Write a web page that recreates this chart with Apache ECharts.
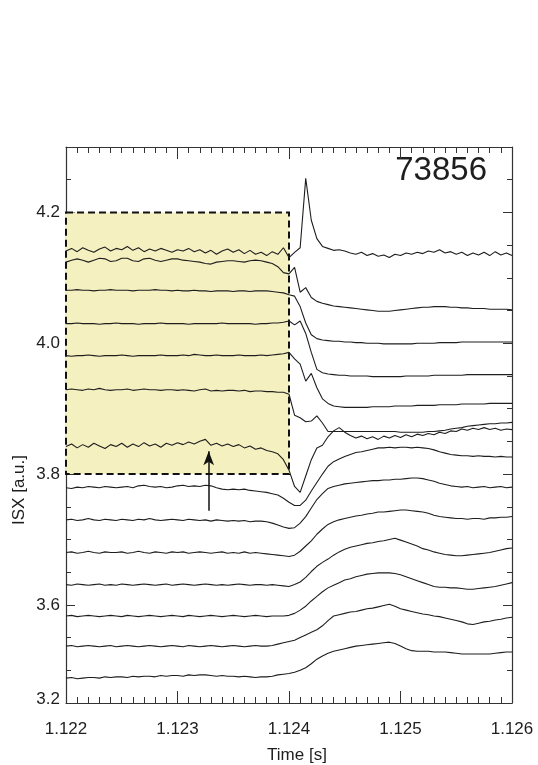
<!DOCTYPE html>
<html><head><meta charset="utf-8">
<script src="https://cdn.jsdelivr.net/npm/echarts@6/dist/echarts.min.js"></script>
<style>html,body{margin:0;padding:0;background:#fff}#c{width:538px;height:765px}</style>
</head><body><div id="c"></div>
<script>
// ---- data ----
const time = [
1.12200,1.12205,1.12210,1.12215,1.12220,1.12225,1.12230,1.12235,1.12240,1.12245,
1.12250,1.12255,1.12260,1.12265,1.12270,1.12275,1.12280,1.12285,1.12290,1.12295,
1.12300,1.12305,1.12310,1.12315,1.12320,1.12325,1.12330,1.12335,1.12340,1.12345,
1.12350,1.12355,1.12360,1.12365,1.12370,1.12375,1.12380,1.12385,1.12390,1.12395,
1.12400,1.12405,1.12410,1.12415,1.12420,1.12425,1.12430,1.12435,1.12440,1.12445,
1.12450,1.12455,1.12460,1.12465,1.12470,1.12475,1.12480,1.12485,1.12490,1.12495,
1.12500,1.12505,1.12510,1.12515,1.12520,1.12525,1.12530,1.12535,1.12540,1.12545,
1.12550,1.12555,1.12560,1.12565,1.12570,1.12575,1.12580,1.12585,1.12590,1.12595,
1.12600];
const trace01 = [
4.141,4.145,4.140,4.146,4.142,4.139,4.144,4.147,4.141,4.145,
4.143,4.148,4.142,4.146,4.140,4.144,4.141,4.145,4.142,4.139,
4.143,4.141,4.145,4.140,4.143,4.138,4.142,4.136,4.141,4.144,
4.139,4.143,4.137,4.142,4.136,4.139,4.134,4.140,4.136,4.146,
4.131,4.139,4.146,4.252,4.188,4.160,4.148,4.145,4.142,4.143,
4.141,4.138,4.136,4.139,4.134,4.137,4.133,4.135,4.131,4.136,
4.134,4.138,4.136,4.139,4.137,4.141,4.139,4.143,4.138,4.140,
4.136,4.139,4.134,4.138,4.135,4.139,4.134,4.140,4.135,4.138,4.134];
const trace02 = [
4.124,4.127,4.129,4.127,4.124,4.127,4.130,4.129,4.125,4.126,
4.130,4.130,4.126,4.125,4.129,4.130,4.127,4.125,4.127,4.129,
4.129,4.127,4.126,4.125,4.124,4.122,4.121,4.124,4.125,4.126,
4.126,4.125,4.124,4.126,4.127,4.126,4.124,4.122,4.117,4.108,
4.106,4.116,4.078,4.085,4.070,4.064,4.061,4.059,4.057,4.056,
4.055,4.054,4.053,4.052,4.051,4.050,4.049,4.049,4.049,4.050,
4.051,4.052,4.053,4.054,4.055,4.055,4.056,4.056,4.056,4.055,
4.055,4.054,4.054,4.053,4.053,4.053,4.052,4.052,4.052,4.052,4.051];
const trace03 = [
4.081,4.081,4.082,4.081,4.081,4.080,4.081,4.081,4.082,4.081,
4.081,4.081,4.080,4.081,4.081,4.081,4.082,4.081,4.081,4.080,
4.081,4.080,4.080,4.081,4.080,4.080,4.079,4.080,4.080,4.080,
4.079,4.080,4.080,4.079,4.080,4.080,4.080,4.079,4.078,4.077,
4.074,4.072,4.056,4.031,4.013,4.007,4.005,4.004,4.003,4.003,
4.002,4.002,4.001,4.001,4.000,4.000,4.000,3.999,3.999,3.999,
3.999,3.999,3.999,4.000,4.000,4.000,4.000,4.001,4.001,4.001,
4.001,4.002,4.002,4.002,4.002,4.002,4.002,4.002,4.002,4.002,4.002];
const trace04 = [
4.030,4.030,4.031,4.030,4.030,4.030,4.029,4.030,4.030,4.031,
4.030,4.030,4.030,4.029,4.030,4.030,4.030,4.031,4.030,4.030,
4.030,4.030,4.029,4.030,4.030,4.030,4.030,4.030,4.031,4.030,
4.030,4.030,4.030,4.030,4.029,4.030,4.030,4.031,4.031,4.032,
4.034,4.028,4.034,4.015,3.986,3.960,3.955,3.953,3.952,3.951,
3.951,3.950,3.950,3.950,3.950,3.949,3.949,3.949,3.949,3.949,
3.949,3.950,3.950,3.950,3.950,3.950,3.951,3.951,3.951,3.951,
3.951,3.951,3.952,3.952,3.952,3.952,3.952,3.952,3.952,3.952,3.952];
const trace05 = [
3.981,3.980,3.981,3.981,3.982,3.981,3.980,3.981,3.981,3.981,
3.982,3.981,3.980,3.981,3.981,3.981,3.981,3.982,3.981,3.981,
3.981,3.982,3.981,3.983,3.982,3.981,3.981,3.982,3.981,3.981,
3.981,3.982,3.981,3.981,3.981,3.982,3.981,3.982,3.983,3.984,
3.986,3.976,3.968,3.942,3.954,3.932,3.915,3.908,3.904,3.903,
3.902,3.902,3.902,3.902,3.902,3.903,3.903,3.903,3.903,3.904,
3.904,3.904,3.904,3.905,3.905,3.905,3.905,3.906,3.906,3.906,
3.906,3.907,3.907,3.907,3.907,3.907,3.908,3.908,3.908,3.908,3.908];
const trace06 = [
3.929,3.930,3.929,3.928,3.930,3.929,3.931,3.929,3.928,3.929,
3.929,3.930,3.928,3.929,3.930,3.929,3.929,3.928,3.929,3.929,
3.928,3.929,3.928,3.927,3.929,3.930,3.927,3.928,3.927,3.928,
3.928,3.927,3.928,3.926,3.927,3.927,3.926,3.926,3.925,3.925,
3.922,3.890,3.886,3.880,3.881,3.889,3.878,3.865,3.865,3.865,
3.865,3.865,3.865,3.865,3.865,3.865,3.865,3.865,3.865,3.865,
3.864,3.864,3.864,3.864,3.864,3.865,3.865,3.866,3.867,3.869,
3.870,3.871,3.873,3.874,3.875,3.876,3.877,3.877,3.878,3.878,3.879];
const trace07 = [
3.842,3.846,3.840,3.845,3.841,3.847,3.843,3.839,3.845,3.842,
3.847,3.841,3.846,3.842,3.848,3.843,3.846,3.841,3.847,3.844,
3.848,3.845,3.849,3.846,3.850,3.853,3.844,3.847,3.843,3.846,
3.842,3.845,3.840,3.843,3.838,3.840,3.836,3.834,3.831,3.822,
3.806,3.781,3.772,3.797,3.822,3.840,3.844,3.857,3.866,3.871,
3.864,3.859,3.855,3.858,3.854,3.857,3.853,3.858,3.855,3.859,
3.856,3.860,3.857,3.861,3.859,3.862,3.860,3.864,3.862,3.866,
3.865,3.869,3.867,3.870,3.868,3.871,3.868,3.870,3.867,3.869,3.868];
const trace08 = [
3.779,3.778,3.780,3.779,3.781,3.780,3.779,3.781,3.780,3.779,
3.780,3.781,3.779,3.782,3.783,3.781,3.780,3.781,3.779,3.780,
3.782,3.783,3.781,3.782,3.781,3.783,3.782,3.779,3.777,3.776,
3.777,3.776,3.777,3.775,3.774,3.773,3.772,3.770,3.768,3.763,
3.757,3.752,3.752,3.760,3.774,3.787,3.800,3.812,3.819,3.823,
3.827,3.830,3.833,3.834,3.836,3.838,3.840,3.840,3.841,3.840,
3.841,3.841,3.840,3.841,3.840,3.839,3.837,3.834,3.832,3.830,
3.829,3.828,3.828,3.827,3.828,3.827,3.827,3.826,3.827,3.826,3.826];
const trace09 = [
3.730,3.731,3.729,3.730,3.732,3.730,3.729,3.731,3.730,3.729,
3.731,3.730,3.729,3.731,3.730,3.732,3.730,3.729,3.730,3.731,
3.730,3.729,3.731,3.730,3.729,3.730,3.728,3.730,3.729,3.728,
3.729,3.728,3.729,3.727,3.728,3.728,3.727,3.725,3.722,3.719,
3.717,3.718,3.725,3.735,3.748,3.761,3.770,3.778,3.781,3.783,
3.785,3.786,3.787,3.788,3.789,3.790,3.790,3.791,3.791,3.792,
3.792,3.793,3.794,3.794,3.793,3.791,3.789,3.786,3.784,3.782,
3.781,3.780,3.781,3.779,3.780,3.781,3.779,3.780,3.781,3.779,3.780];
const trace10 = [
3.680,3.681,3.679,3.680,3.682,3.680,3.679,3.681,3.680,3.680,
3.681,3.679,3.680,3.682,3.680,3.679,3.681,3.680,3.679,3.681,
3.680,3.681,3.679,3.680,3.681,3.680,3.679,3.680,3.681,3.679,
3.680,3.679,3.681,3.679,3.680,3.679,3.678,3.677,3.676,3.675,
3.674,3.676,3.682,3.690,3.698,3.708,3.716,3.723,3.727,3.730,
3.732,3.734,3.736,3.737,3.739,3.740,3.742,3.742,3.743,3.744,
3.745,3.745,3.744,3.743,3.742,3.740,3.737,3.735,3.734,3.733,
3.732,3.732,3.731,3.732,3.732,3.731,3.733,3.733,3.734,3.734,3.735];
const trace11 = [
3.631,3.630,3.632,3.631,3.630,3.631,3.632,3.630,3.631,3.630,
3.632,3.631,3.630,3.631,3.632,3.631,3.630,3.631,3.632,3.630,
3.631,3.632,3.631,3.630,3.631,3.632,3.631,3.630,3.631,3.630,
3.631,3.632,3.631,3.630,3.631,3.631,3.630,3.631,3.630,3.629,
3.628,3.631,3.635,3.642,3.651,3.659,3.665,3.670,3.676,3.681,
3.685,3.688,3.690,3.692,3.694,3.695,3.697,3.698,3.700,3.702,
3.699,3.696,3.693,3.690,3.686,3.684,3.681,3.679,3.677,3.676,
3.675,3.675,3.676,3.677,3.678,3.679,3.680,3.682,3.684,3.686,3.687];
const trace12 = [
3.583,3.584,3.582,3.583,3.584,3.583,3.582,3.583,3.584,3.583,
3.582,3.584,3.583,3.582,3.583,3.584,3.583,3.582,3.583,3.584,
3.583,3.582,3.584,3.583,3.582,3.583,3.584,3.583,3.582,3.583,
3.584,3.583,3.582,3.583,3.584,3.583,3.582,3.583,3.583,3.583,
3.584,3.587,3.592,3.598,3.606,3.613,3.620,3.626,3.630,3.634,
3.638,3.640,3.643,3.645,3.647,3.648,3.649,3.649,3.649,3.648,
3.646,3.643,3.640,3.637,3.634,3.631,3.628,3.627,3.627,3.626,
3.626,3.625,3.624,3.624,3.625,3.626,3.627,3.628,3.630,3.632,3.634];
const trace13 = [
3.537,3.538,3.536,3.537,3.538,3.537,3.536,3.537,3.538,3.536,
3.537,3.538,3.537,3.536,3.537,3.538,3.537,3.536,3.537,3.538,
3.537,3.536,3.538,3.537,3.536,3.537,3.538,3.537,3.536,3.537,
3.538,3.537,3.536,3.537,3.538,3.537,3.537,3.538,3.540,3.542,
3.544,3.546,3.550,3.554,3.558,3.562,3.568,3.576,3.583,3.585,
3.587,3.589,3.590,3.592,3.594,3.595,3.597,3.599,3.601,3.598,
3.594,3.592,3.590,3.588,3.586,3.585,3.583,3.582,3.580,3.578,
3.576,3.574,3.571,3.570,3.572,3.574,3.575,3.577,3.578,3.580,3.581];
const trace14 = [
3.488,3.489,3.487,3.488,3.489,3.489,3.488,3.490,3.489,3.490,
3.490,3.489,3.491,3.490,3.491,3.491,3.490,3.492,3.491,3.492,
3.492,3.491,3.493,3.492,3.493,3.493,3.492,3.491,3.492,3.491,
3.491,3.490,3.491,3.490,3.489,3.490,3.490,3.491,3.493,3.494,
3.495,3.497,3.500,3.504,3.510,3.517,3.522,3.526,3.529,3.531,
3.533,3.535,3.537,3.538,3.539,3.540,3.541,3.542,3.543,3.541,
3.537,3.533,3.530,3.529,3.529,3.529,3.528,3.528,3.528,3.527,
3.526,3.525,3.525,3.525,3.525,3.525,3.525,3.526,3.527,3.528,3.528];

const shotLabel = '73856';
const xTickValues = [1.122, 1.123, 1.124, 1.125, 1.126];
const yLabelValues = [3.455, 3.6, 3.8, 4.0, 4.2];
const yLabelTexts = ['3.2', '3.6', '3.8', '4.0', '4.2'];
const yMajorTicks = [3.6, 3.8, 4.0, 4.2];
const boxTime = [1.122, 1.124];
const boxISX = [3.8, 4.2];
const arrowTime = 1.12328;
const arrowISX = [3.744, 3.835];

// ---- chart ----
const traces = [trace01,trace02,trace03,trace04,trace05,trace06,trace07,
                trace08,trace09,trace10,trace11,trace12,trace13,trace14];
const FONT = '"Liberation Sans", Arial, Helvetica, sans-serif';
const INK = '#1e1e1e';
const AX = '#333';
const X_MIN = 1.122, X_MAX = 1.126, Y_MIN = 3.45, Y_MAX = 4.3;

const chart = echarts.init(document.getElementById('c'), null, {renderer: 'canvas'});

function xAx(pos, show) {
  return {
    type: 'value', position: pos, min: X_MIN, max: X_MAX, interval: 0.001,
    axisLine: {show: true, onZero: false, lineStyle: {color: AX, width: 1.2}},
    axisTick: {show: true, inside: true, length: 12, lineStyle: {color: AX, width: 1}},
    minorTick: {show: true, splitNumber: 10, length: 6, lineStyle: {color: AX, width: 1}},
    splitLine: {show: false}, minorSplitLine: {show: false},
    axisLabel: {show: show, margin: 18, color: INK, fontSize: 17, fontFamily: FONT,
      formatter: v => { const k = xTickValues.findIndex(t => Math.abs(t - v) < 1e-7); return k >= 0 ? xTickValues[k].toFixed(3) : ''; }}
  };
}
function yMinor(pos) {
  return {
    type: 'value', position: pos, min: Y_MIN, max: Y_MAX, interval: 0.05,
    axisLine: {show: true, onZero: false, lineStyle: {color: AX, width: 1.2}},
    axisTick: {show: true, inside: true, length: 5, lineStyle: {color: AX, width: 1}},
    axisLabel: {show: false}, splitLine: {show: false}
  };
}
function yMajor(pos, show) {
  return {
    type: 'value', position: pos, min: Y_MIN, max: Y_MAX,
    axisLine: {show: false, onZero: false},
    axisTick: {show: true, inside: true, length: 9, customValues: yMajorTicks, lineStyle: {color: AX, width: 1}},
    axisLabel: {show: show, customValues: yLabelValues, margin: 6, color: INK, fontSize: 17, fontFamily: FONT,
      showMinLabel: true, showMaxLabel: true,
      formatter: v => { const k = yLabelValues.findIndex(t => Math.abs(t - v) < 1e-6); return k >= 0 ? yLabelTexts[k] : ''; }},
    splitLine: {show: false}
  };
}

const series = [{
  type: 'line', xAxisIndex: 0, yAxisIndex: 0, data: [], z: 1, silent: true,
  markArea: {
    silent: true,
    itemStyle: {color: '#f4f0c0', borderColor: '#111', borderWidth: 2, borderType: [7, 4]},
    data: [[{coord: [boxTime[0], boxISX[1]]}, {coord: [boxTime[1], boxISX[0]]}]]
  },
  markLine: {
    silent: true, animation: false,
    lineStyle: {color: '#111', width: 1.5, type: 'solid'},
    label: {show: false},
    symbol: ['none', 'arrow'], symbolSize: [0, 10],
    data: [[{coord: [arrowTime, arrowISX[0]], symbol: 'none'},
            {coord: [arrowTime, arrowISX[1]], symbol: 'arrow', symbolSize: [8, 14]}]]
  }
}];
traces.forEach((tr, i) => {
  series.push({
    name: 'trace' + (i + 1), type: 'line', xAxisIndex: 0, yAxisIndex: 0, z: 3,
    showSymbol: false, symbol: 'none', smooth: false, silent: true,
    lineStyle: {color: INK, width: 1.1},
    data: time.map((t, j) => [t, tr[j]])
  });
});

chart.setOption({
  animation: false,
  backgroundColor: '#fff',
  grid: {left: 66, right: 26, top: 147, bottom: 62, containLabel: false},
  xAxis: [xAx('bottom', true), xAx('top', false)],
  yAxis: [yMinor('left'), yMajor('left', true), yMinor('right'), yMajor('right', false)],
  series: series,
  graphic: [
    {type: 'text', x: 487, y: 171, silent: true,
     style: {text: shotLabel, fill: INK, font: '33px ' + FONT, align: 'right', verticalAlign: 'middle'}},
    {type: 'text', x: 19, y: 490, rotation: Math.PI / 2, silent: true,
     style: {text: 'ISX [a.u.]', fill: INK, font: '17px ' + FONT, align: 'center', verticalAlign: 'middle'}},
    {type: 'text', x: 297, y: 755, silent: true,
     style: {text: 'Time [s]', fill: INK, font: '17px ' + FONT, align: 'center', verticalAlign: 'middle'}}
  ]
});
</script>
</body></html>
